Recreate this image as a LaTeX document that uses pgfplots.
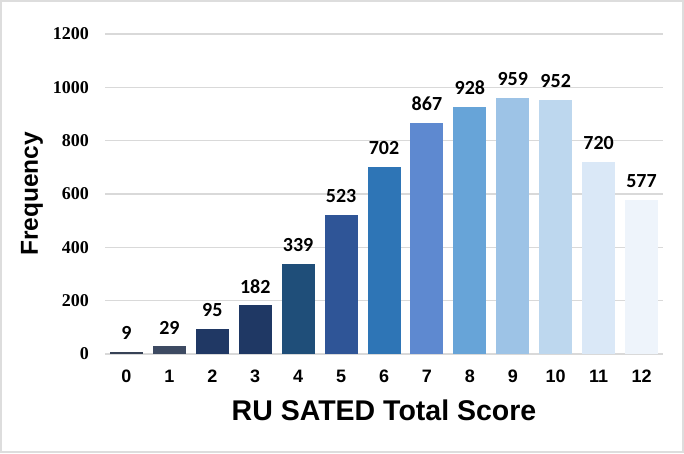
\documentclass[border=0pt]{standalone}
\usepackage{fontspec}
\usepackage{pgfplots}
\pgfplotsset{compat=1.18}
\setmainfont{Liberation Sans}
\newfontfamily\tnr{Liberation Serif}
\newfontfamily\arial{Liberation Sans}
\newfontfamily\calib{Carlito}
\definecolor{gridgray}{HTML}{D9D9D9}
\definecolor{framegray}{HTML}{DDDDDD}
\definecolor{c0}{HTML}{374256}
\definecolor{c1}{HTML}{3D4A62}
\definecolor{c2}{HTML}{203864}
\definecolor{c3}{HTML}{1F3864}
\definecolor{c4}{HTML}{1F4E79}
\definecolor{c5}{HTML}{2F5597}
\definecolor{c6}{HTML}{2E75B6}
\definecolor{c7}{HTML}{5E89D0}
\definecolor{c8}{HTML}{67A4D8}
\definecolor{c9}{HTML}{9DC3E6}
\definecolor{c10}{HTML}{BDD7EE}
\definecolor{c11}{HTML}{DAE8F7}
\definecolor{c12}{HTML}{EEF4FB}
\pgfplotsset{/pgf/number format/assume math mode=true}
\begin{document}
\begin{tikzpicture}
\draw[draw=framegray, line width=2pt] (1pt,1pt) rectangle (683pt,452pt);
\begin{axis}[
  at={(105pt,99pt)}, anchor=south west,
  scale only axis, width=558pt, height=320pt,
  xmin=-0.5, xmax=12.5, ymin=0, ymax=1200,
  ytick={0,200,...,1200}, xtick={0,...,12},
  /pgf/number format/1000 sep={},
  ymajorgrids, grid style={draw=gridgray, line width=1.3pt},
  axis x line*=bottom, axis y line*=left,
  x axis line style={draw=gridgray, line width=1.3pt},
  y axis line style={draw=none},
  major tick length=0pt,
  yticklabel style={font=\tnr\bfseries\fontsize{18}{18}\selectfont, anchor=east, inner sep=0pt, xshift=-16pt},
  xticklabel style={font=\arial\bfseries\fontsize{18}{18}\selectfont, anchor=north, inner sep=0pt, yshift=-16pt},
  xlabel={RU SATED Total Score},
  xlabel style={font=\arial\bfseries\fontsize{28.5}{28.5}\selectfont, at={(axis description cs:0.5,0)}, anchor=base, yshift=-66pt, inner sep=0pt},
  ylabel={Frequency},
  ylabel style={font=\arial\bfseries\fontsize{24.5}{24.5}\selectfont, at={(axis description cs:0,0.5)}, anchor=center, yshift=73pt, inner sep=0pt},
  every node near coord/.append style={font=\calib\bfseries\fontsize{20}{20}\selectfont, text=black, anchor=south, inner sep=0pt, yshift=12pt},
  clip=false,
]
\addplot[ybar, bar width=33pt, bar shift=0pt, fill=c0, draw=none, nodes near coords] coordinates {(0,9)};
\addplot[ybar, bar width=33pt, bar shift=0pt, fill=c1, draw=none, nodes near coords] coordinates {(1,29)};
\addplot[ybar, bar width=33pt, bar shift=0pt, fill=c2, draw=none, nodes near coords] coordinates {(2,95)};
\addplot[ybar, bar width=33pt, bar shift=0pt, fill=c3, draw=none, nodes near coords] coordinates {(3,182)};
\addplot[ybar, bar width=33pt, bar shift=0pt, fill=c4, draw=none, nodes near coords] coordinates {(4,339)};
\addplot[ybar, bar width=33pt, bar shift=0pt, fill=c5, draw=none, nodes near coords] coordinates {(5,523)};
\addplot[ybar, bar width=33pt, bar shift=0pt, fill=c6, draw=none, nodes near coords] coordinates {(6,702)};
\addplot[ybar, bar width=33pt, bar shift=0pt, fill=c7, draw=none, nodes near coords] coordinates {(7,867)};
\addplot[ybar, bar width=33pt, bar shift=0pt, fill=c8, draw=none, nodes near coords] coordinates {(8,928)};
\addplot[ybar, bar width=33pt, bar shift=0pt, fill=c9, draw=none, nodes near coords] coordinates {(9,959)};
\addplot[ybar, bar width=33pt, bar shift=0pt, fill=c10, draw=none, nodes near coords] coordinates {(10,952)};
\addplot[ybar, bar width=33pt, bar shift=0pt, fill=c11, draw=none, nodes near coords] coordinates {(11,720)};
\addplot[ybar, bar width=33pt, bar shift=0pt, fill=c12, draw=none, nodes near coords] coordinates {(12,577)};
\end{axis}
\end{tikzpicture}
\end{document}
